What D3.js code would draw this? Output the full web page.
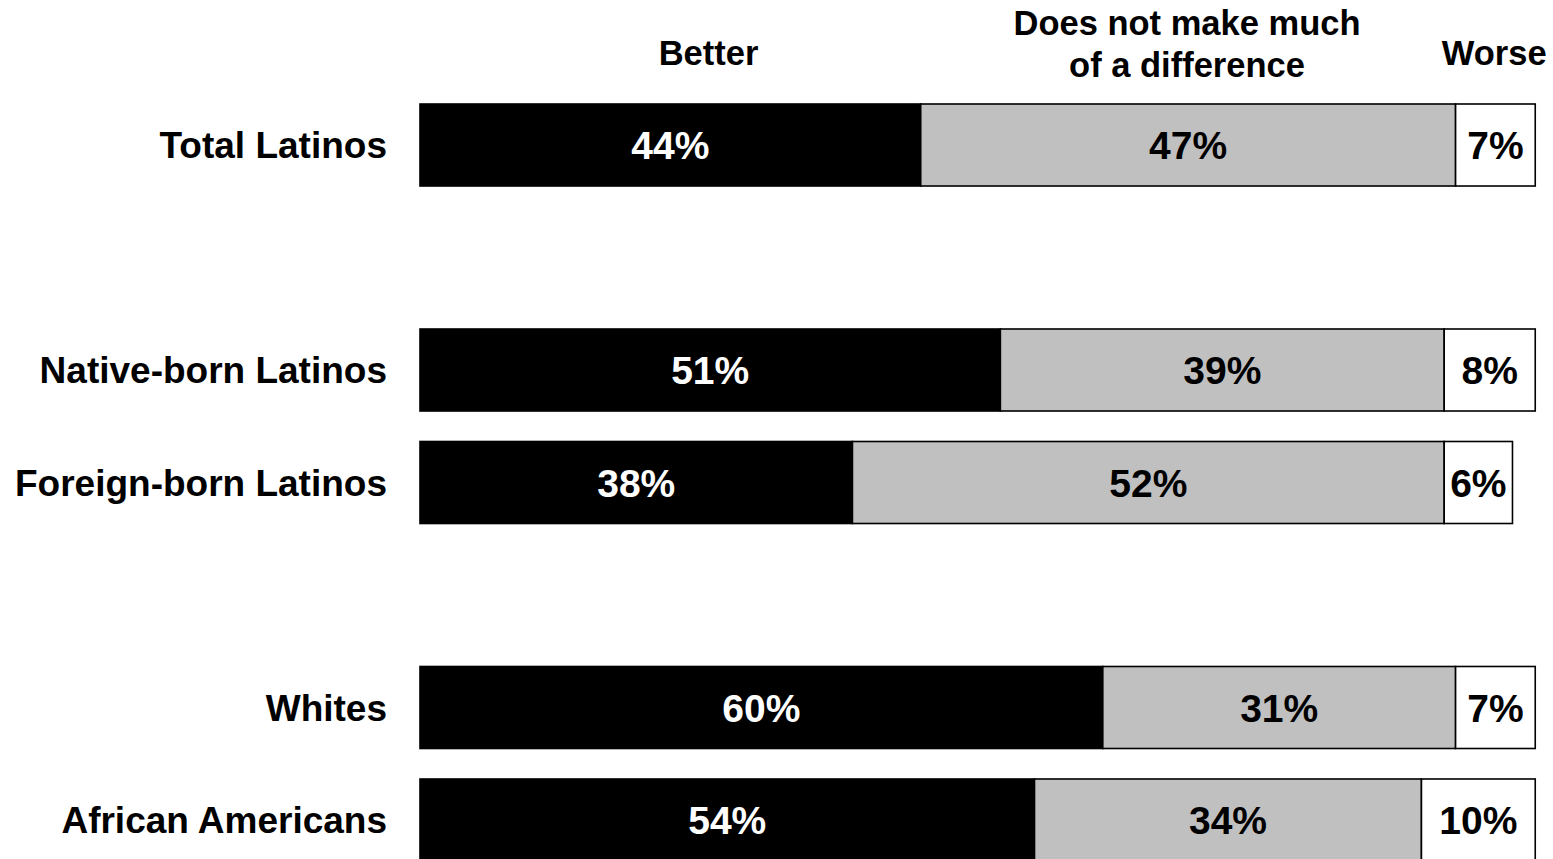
<!DOCTYPE html>
<html>
<head>
<meta charset="utf-8">
<script src="https://cdn.jsdelivr.net/npm/d3@7"></script>
<style>
  html, body { margin: 0; padding: 0; background: #fff; overflow: hidden; }
  svg { display: block; }
  text { font-family: "Liberation Sans", Arial, sans-serif; font-weight: bold; }
</style>
</head>
<body>
<svg id="chart" width="1553" height="859"></svg>
<script>
// ---- Data ----
const rowIds = ["total", "gap1", "native", "foreign", "gap2", "whites", "african"];
const categories = ["Total Latinos", "", "Native-born Latinos", "Foreign-born Latinos", "", "Whites", "African Americans"];
const better = [44, null, 51, 38, null, 60, 54];
const noDifference = [47, null, 39, 52, null, 31, 34];
const worse = [7, null, 8, 6, null, 7, 10];
const seriesNames = ["Better", "Does not make much of a difference", "Worse"];
const headerLines = [["Better"], ["Does not make much", "of a difference"], ["Worse"]];

// ---- Layout ----
const svg = d3.select("#chart");

const x = d3.scaleLinear().domain([0, 100]).range([420, 420 + 1138]);
const y = d3.scaleBand().domain(rowIds).range([104, 861]).paddingInner(0.271).paddingOuter(0);

const fills = ["#000000", "#c0c0c0", "#ffffff"];
const labelColors = ["#ffffff", "#000000", "#000000"];

const rows = rowIds.map((id, i) => ({
  id, name: categories[i], values: [better[i], noDifference[i], worse[i]]
})).filter(r => r.values[0] !== null);

const stack = d3.stack().keys([0, 1, 2]).value((d, k) => d.values[k]);
const stacked = stack(rows);

// bars
const g = svg.append("g");
stacked.forEach((layer, k) => {
  g.selectAll(null).data(layer).join("rect")
    .attr("x", d => x(d[0]))
    .attr("y", d => y(d.data.id))
    .attr("width", d => x(d[1]) - x(d[0]))
    .attr("height", y.bandwidth())
    .attr("fill", fills[k])
    .attr("stroke", "#000")
    .attr("stroke-width", 1.6);
});

// value labels
stacked.forEach((layer, k) => {
  g.selectAll(null).data(layer).join("text")
    .attr("x", d => (x(d[0]) + x(d[1])) / 2)
    .attr("y", d => y(d.data.id) + y.bandwidth() / 2)
    .attr("dy", "0.36em")
    .attr("text-anchor", "middle")
    .attr("font-size", 39)
    .attr("fill", labelColors[k])
    .text(d => d.data.values[k] + "%");
});

// category labels
svg.append("g").selectAll("text").data(rows).join("text")
  .attr("x", 387)
  .attr("y", d => y(d.id) + y.bandwidth() / 2)
  .attr("dy", "0.36em")
  .attr("text-anchor", "end")
  .attr("font-size", 37)
  .attr("fill", "#000")
  .text(d => d.name);

// column headers
const headerX = [x(25.35), x(67.4), x(94.4)];
const hg = svg.append("g");
headerLines.forEach((lines, k) => {
  const t = hg.append("text")
    .attr("text-anchor", "middle")
    .attr("font-size", 34.5)
    .attr("fill", "#000");
  const baseY = lines.length === 1 ? 65 : 35;
  lines.forEach((ln, j) => {
    t.append("tspan").attr("x", headerX[k]).attr("y", baseY + j * 42).text(ln);
  });
});
</script>
</body>
</html>
